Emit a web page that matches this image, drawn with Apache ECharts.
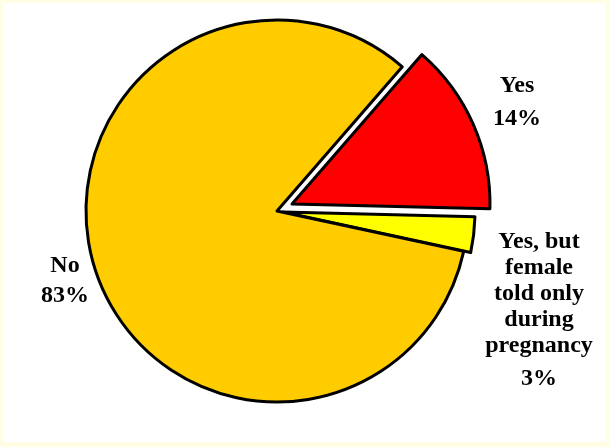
<!DOCTYPE html>
<html>
<head>
<meta charset="utf-8">
<script src="https://cdn.jsdelivr.net/npm/echarts@6/dist/echarts.min.js"></script>
<style>
  html, body { margin: 0; padding: 0; background: #fffde3; }
  #chart { position: absolute; left: 3px; top: 3px; width: 603px; height: 439px; background: #fff; }
</style>
</head>
<body>
<div id="chart"></div>
<script>
// slices (Excel-style exploded pie)
const names = ['Yes', 'Yes, but\nfemale\ntold only\nduring\npregnancy', 'No'];
const values = [14, 3, 83];
const colors = ['#ff0000', '#ffff00', '#ffcc00'];

// each slice drawn by its own series so each can be pulled out by a different amount
const sliceCenters = [[289, 201], [280, 209], [274, 208]];
const sliceRadius = [198, 192, 191];
const labelPos = [[514, 99], [536, 311], [62, 278]];
const labelRich = [
  { n: { lineHeight: 33 }, p: { lineHeight: 33 } },
  { n: { lineHeight: 26 }, p: { lineHeight: 40 } },
  { n: { lineHeight: 30 }, p: { lineHeight: 30 } }
];

const font = { fontFamily: 'Liberation Serif', fontWeight: 'bold', fontSize: 24, color: '#000' };

let mychart = echarts.init(document.getElementById('chart'));

let series = names.map((_, s) => {
  return {
    type: 'pie',
    center: sliceCenters[s],
    radius: [0, sliceRadius[s]],
    startAngle: 49,
    clockwise: true,
    silent: true,
    animation: false,
    avoidLabelOverlap: false,
    labelLine: { show: false },
    labelLayout: () => ({
      x: labelPos[s][0],
      y: labelPos[s][1],
      align: 'center',
      verticalAlign: 'middle'
    }),
    data: names.map((name, i) => ({
      name: name,
      value: values[i],
      itemStyle: i === s
        ? { color: colors[i], borderColor: '#000', borderWidth: 3 }
        : { color: 'rgba(0,0,0,0)', borderWidth: 0 },
      label: i === s
        ? {
            show: true,
            position: 'outside',
            formatter: (p) => '{n|' + p.name.split('\n').join('}\n{n|') + '}\n{p|' + Math.round(p.percent) + '%}',
            ...font,
            rich: {
              n: { ...font, ...labelRich[s].n },
              p: { ...font, ...labelRich[s].p }
            }
          }
        : { show: false }
    }))
  };
});

mychart.setOption({
  backgroundColor: '#fff',
  series: series
});
</script>
</body>
</html>
